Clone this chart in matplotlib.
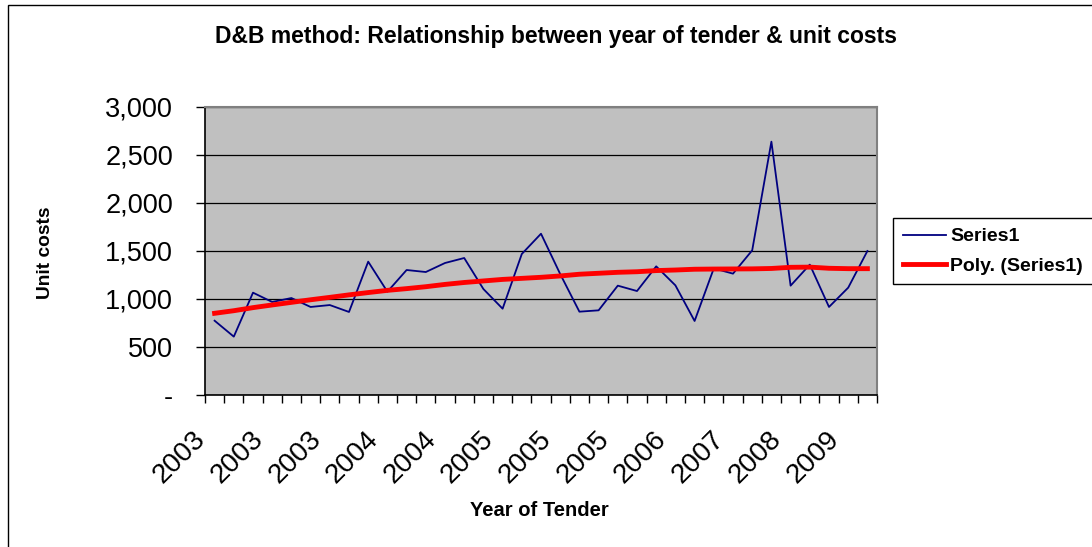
import matplotlib
matplotlib.use('Agg')
import matplotlib.pyplot as plt
from matplotlib.patches import Rectangle
from matplotlib.ticker import FuncFormatter, FixedLocator
from matplotlib.transforms import ScaledTranslation

plt.rcParams['font.family'] = ['Liberation Sans', 'DejaVu Sans']

# Series1 : unit cost per tender (35 tenders)
unit_costs = [774, 608, 1066, 969, 1010, 917, 937, 865, 1389, 1076,
              1302, 1281, 1375, 1427, 1104, 899, 1469, 1680, 1260, 868,
              882, 1139, 1083, 1340, 1142, 771, 1319, 1264, 1507, 2639,
              1139, 1358, 917, 1118, 1500]
# Poly. (Series1) : trendline as drawn
trend = [851, 878, 910, 938, 965, 992, 1017, 1043, 1067, 1090,
         1108, 1128, 1152, 1172, 1188, 1204, 1215, 1226, 1240, 1258,
         1268, 1278, 1284, 1296, 1302, 1310, 1312, 1313, 1314, 1318,
         1330, 1332, 1320, 1316, 1316]
tick_years = ['2003', '2003', '2003', '2004', '2004', '2005', '2005',
              '2005', '2006', '2007', '2008', '2009']

n = len(unit_costs)
x = list(range(n))

fig = plt.figure(figsize=(10.92, 5.47), dpi=100)
fig.patches.append(Rectangle((8 / 1092, -0.05), 1.2, 1 - 5 / 547 + 0.05,
                             transform=fig.transFigure, fill=False,
                             edgecolor='black', linewidth=1.0))

ax = fig.add_axes([205 / 1092, 1 - 395 / 547, 672 / 1092, 288 / 547])
ax.set_facecolor('#C0C0C0')

ax.plot(x, unit_costs, color='#000080', linewidth=1.3, label='Series1', zorder=3)
ax.plot(x, trend, color='#FF0000', linewidth=3.5, label='Poly. (Series1)', zorder=4)

ax.set_xlim(-0.5, n - 0.5)
ax.set_ylim(0, 3000)
ax.set_yticks(range(0, 3001, 500))
ax.yaxis.set_major_formatter(FuncFormatter(lambda v, p: '-' if v == 0 else f'{v:,.0f}'))
ax.grid(axis='y', color='black', linewidth=0.9)
ax.set_axisbelow(True)

ax.set_xticks(list(range(0, n, 3)))
ax.set_xticklabels(tick_years, rotation=45, ha='right', va='top', rotation_mode='anchor')
ax.xaxis.set_minor_locator(FixedLocator([i - 0.5 for i in range(n + 1)]))
ax.tick_params(axis='x', which='major', length=0, labelsize=20, pad=14)
ax.tick_params(axis='x', which='minor', length=5.5, width=1, direction='out')
ax.tick_params(axis='y', length=6.5, width=1, labelsize=19.5, pad=16.5)
shift = ScaledTranslation(-22 / 100, -12 / 100, fig.dpi_scale_trans)
for lab in ax.get_xticklabels():
    lab.set_transform(lab.get_transform() + shift)

for side in ['top', 'right']:
    ax.spines[side].set_color('#808080')
    ax.spines[side].set_linewidth(1.5)
for side in ['left', 'bottom']:
    ax.spines[side].set_color('black')
    ax.spines[side].set_linewidth(1.2)

fig.text(556 / 1092, 1 - 37 / 547, 'D&B method: Relationship between year of tender & unit costs',
         ha='center', va='center', fontsize=16.5, fontweight='bold')
fig.text(45 / 1092, 1 - 253 / 547, 'Unit costs', rotation=90,
         ha='center', va='center', fontsize=13.8, fontweight='bold')
fig.text(539 / 1092, 1 - 510 / 547, 'Year of Tender',
         ha='center', va='center', fontsize=14.5, fontweight='bold')

leg = fig.legend(loc='upper left', bbox_to_anchor=(893 / 1092, 1 - 218 / 547),
                 prop={'weight': 'bold', 'size': 14},
                 fancybox=False, edgecolor='black', framealpha=1,
                 handlelength=2.2, borderpad=0.5, labelspacing=0.6,
                 handletextpad=0.25, borderaxespad=0)
leg.get_frame().set_linewidth(1.0)

fig.savefig('out.png', dpi=100)
